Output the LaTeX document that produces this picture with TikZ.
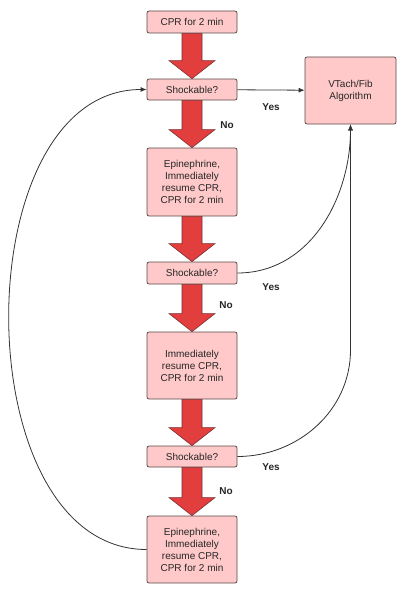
\documentclass[tikz,border=0pt]{standalone}
\usepackage{fontspec}
\setmainfont{Liberation Sans}
\usetikzlibrary{arrows.meta,calc}

\definecolor{boxfill}{HTML}{FFC9C9}
\definecolor{boxline}{HTML}{5A4848}
\definecolor{fatred}{HTML}{E23E3E}
\definecolor{fatline}{HTML}{7A2E2E}
\definecolor{linkgray}{HTML}{333333}

% fat red arrow from the bottom of one box to the top of the next
\newcommand{\fatdown}[2]{%
  \draw[fatarrow] let \p1=(#1.south), \p2=(#2.north) in
    (\x1-10pt,\y1) -- (\x1-10pt,\y2+18pt) -- (\x1-23pt,\y2+18pt) -- (\x1,\y2)
    -- (\x1+23pt,\y2+18pt) -- (\x1+10pt,\y2+18pt) -- (\x1+10pt,\y1) -- cycle;}

\begin{document}
\begin{tikzpicture}[x=1pt,y=-1pt,font=\fontsize{10}{12}\selectfont,
    stepbox/.style={draw=boxline,fill=boxfill,line width=0.8pt,rounded corners=2pt,
      minimum width=90pt,inner sep=0pt,align=center,text=black!85},
    fatarrow/.style={fill=fatred,draw=fatline,line width=0.6pt,line join=miter},
    link/.style={draw=linkgray,line width=0.8pt,-{Latex[length=6pt,width=5pt]}},
    answer/.style={font=\fontsize{10}{12}\selectfont\bfseries,text=black!85}]
    \useasboundingbox (0,0) rectangle (406,594);
    \node[stepbox,minimum height=22pt] (cpr) at (192,22) {CPR for 2 min};
    \node[stepbox,minimum height=21pt] (shock1) at (192,89.5) {Shockable?};
    \node[stepbox,minimum width=91pt,minimum height=67pt] (vtach) at (350.5,90.5) {VTach/Fib\\Algorithm};
    \node[stepbox,minimum height=68pt] (epi1) at (192,182) {Epinephrine,\\Immediately\\resume CPR,\\CPR for 2 min};
    \node[stepbox,minimum height=22pt] (shock2) at (192,273) {Shockable?};
    \node[stepbox,minimum height=67pt] (resume) at (192,365.5) {Immediately\\resume CPR,\\CPR for 2 min};
    \node[stepbox,minimum height=21pt] (shock3) at (192,456.5) {Shockable?};
    \node[stepbox,minimum height=67pt] (epi2) at (192,549.5) {Epinephrine,\\Immediately\\resume CPR,\\CPR for 2 min};
    \coordinate (bend3) at (350.5,350);
    % fat arrows down the column
    \fatdown{cpr}{shock1}
    \fatdown{shock1}{epi1}
    \fatdown{epi1}{shock2}
    \fatdown{shock2}{resume}
    \fatdown{resume}{shock3}
    \fatdown{shock3}{epi2}
    % answers
    \node[answer] (yes1) at (271,107) {Yes};
    \node[answer] (no1) at (227,125) {No};
    \node[answer] (yes2) at (271,287) {Yes};
    \node[answer] (no2) at (226,305) {No};
    \node[answer] (yes3) at (271,467) {Yes};
    \node[answer] (no3) at (226,491) {No};
    % thin connectors
    \draw[link] (shock1) to (vtach);
    \draw[link] (shock2.east) to[out=0,in=-90] (vtach.south);
    \draw[link] (shock3.east) to[out=0,in=-90] (bend3) -- (vtach.south);
    \draw[link] (epi2.west) to[out=180,in=180,looseness=1.02] (shock1.west);
\end{tikzpicture}
\end{document}
